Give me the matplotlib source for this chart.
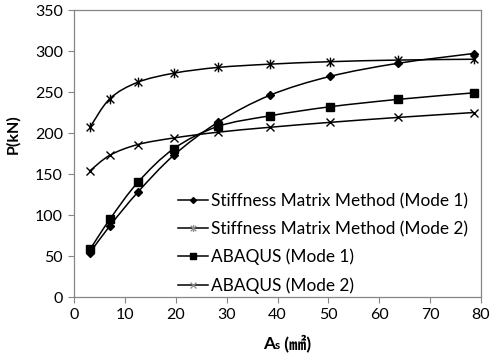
import matplotlib
matplotlib.use("Agg")
import matplotlib.pyplot as plt
from matplotlib.path import Path
from matplotlib.patches import PathPatch
from matplotlib.lines import Line2D
from matplotlib.offsetbox import TextArea, HPacker, AnchoredOffsetbox

area = [3.14, 7.07, 12.57, 19.63, 28.27, 38.48, 50.27, 63.62, 78.54]
smm_mode1 = [54, 87, 128, 173, 213, 246, 269, 285, 297]
smm_mode2 = [207, 242, 262, 273, 280, 284, 287, 289, 290]
abq_mode1 = [58, 95, 140, 181, 208, 221, 232, 241, 249]
abq_mode2 = [154, 173, 186, 194, 201, 207, 213, 219, 225]

labels = [
    "Stiffness Matrix Method (Mode 1)",
    "Stiffness Matrix Method (Mode 2)",
    "ABAQUS (Mode 1)",
    "ABAQUS (Mode 2)",
]

plt.rcParams["font.family"] = ["Lato", "DejaVu Sans"]

# asterisk marker: x with a vertical bar
star = Path(
    [(0, -1), (0, 1), (-0.8, -0.8), (0.8, 0.8), (-0.8, 0.8), (0.8, -0.8)],
    [Path.MOVETO, Path.LINETO, Path.MOVETO, Path.LINETO, Path.MOVETO, Path.LINETO],
)


def smooth_path(x, y):
    # Catmull-Rom style bezier through the points (like Excel smoothed lines)
    pts = list(zip(x, y))
    verts = [pts[0]]
    codes = [Path.MOVETO]
    for i in range(len(pts) - 1):
        p0 = pts[i - 1] if i > 0 else pts[i]
        p1 = pts[i]
        p2 = pts[i + 1]
        p3 = pts[i + 2] if i + 2 < len(pts) else pts[i + 1]
        c1 = (p1[0] + (p2[0] - p0[0]) / 6, p1[1] + (p2[1] - p0[1]) / 6)
        c2 = (p2[0] - (p3[0] - p1[0]) / 6, p2[1] - (p3[1] - p1[1]) / 6)
        verts += [c1, c2, p2]
        codes += [Path.CURVE4] * 3
    return Path(verts, codes)


fig = plt.figure(figsize=(5.0, 3.59), dpi=100)
ax = fig.add_axes([0.148, 0.1727, 0.814, 0.7993])

series = [
    (smm_mode1, dict(marker="D", markersize=4.5), dict(marker="D", markersize=3)),
    (smm_mode2, dict(marker=star, markersize=7, markerfacecolor="none", markeredgewidth=1.0),
     dict(marker=star, markersize=5, markerfacecolor="none", markeredgewidth=0.9, markeredgecolor="#8c8c8c")),
    (abq_mode1, dict(marker="s", markersize=6), dict(marker="s", markersize=4)),
    (abq_mode2, dict(marker="x", markersize=6, markeredgewidth=1.0),
     dict(marker="x", markersize=4.5, markeredgewidth=0.9, markeredgecolor="#8c8c8c")),
]

handles = []
for (vals, mk, lk), lab in zip(series, labels):
    ax.add_patch(PathPatch(smooth_path(area, vals), fill=False, edgecolor="black", linewidth=1.1))
    ax.plot(area, vals, linestyle="none", color="black", **mk)
    handles.append(Line2D([], [], color="black", linewidth=1.1, **lk))

ax.set_xlim(0, 80)
ax.set_ylim(0, 350)
ax.set_xticks(range(0, 81, 10))
ax.set_yticks(range(0, 351, 50))

for s in ax.spines.values():
    s.set_color("#868686")
    s.set_linewidth(0.9)
ax.tick_params(direction="out", length=4, color="#868686", labelsize=11.5, pad=4)

ax.set_ylabel("P(kN)", fontsize=11.5, fontweight="bold")
ax.yaxis.set_label_coords(-0.133, 0.568)

fam = ["Lato", "Noto Sans CJK JP", "DejaVu Sans"]
xl = HPacker(
    children=[
        TextArea("A", textprops=dict(fontsize=12.5, fontweight="bold", family=fam)),
        TextArea("s", textprops=dict(fontsize=8.5, fontweight="bold", family=fam)),
        TextArea(" (㎟)", textprops=dict(fontsize=12.5, fontweight="bold", family=fam)),
    ],
    align="baseline",
    pad=0,
    sep=0,
)
box = AnchoredOffsetbox(
    loc="center",
    child=xl,
    frameon=False,
    bbox_to_anchor=(0.523, -0.16),
    bbox_transform=ax.transAxes,
    borderpad=0,
    pad=0,
)
ax.add_artist(box)

ax.legend(
    handles,
    labels,
    loc="lower right",
    bbox_to_anchor=(0.968, 0.012),
    frameon=False,
    fontsize=12.4,
    handlelength=1.72,
    handletextpad=0.17,
    labelspacing=0.68,
    borderaxespad=0,
    borderpad=0,
)

fig.savefig("out.png", dpi=100)
